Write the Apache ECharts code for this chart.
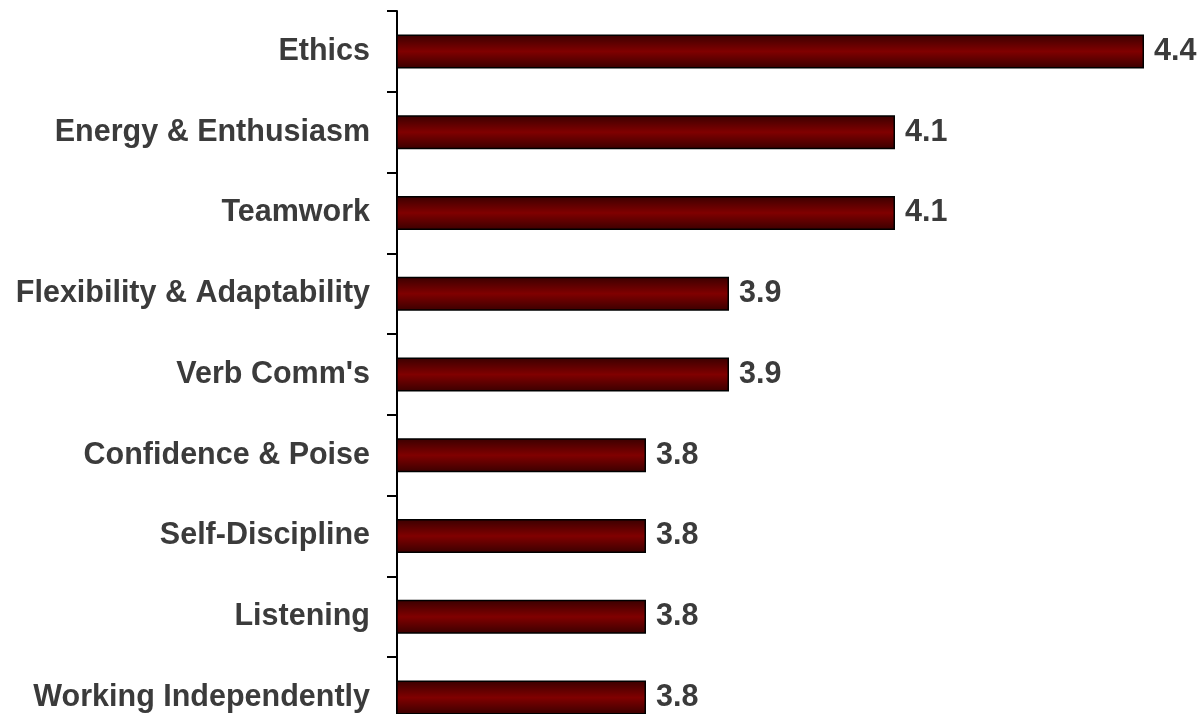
<!DOCTYPE html>
<html>
<head>
<meta charset="utf-8">
<script src="https://cdn.jsdelivr.net/npm/echarts@6/dist/echarts.min.js"></script>
<style>
  html, body { margin: 0; padding: 0; background: #fff; overflow: hidden; }
  /* canvas is taller and wider than the window: the plot runs past the bottom-right edge */
  #chart { width: 1300px; height: 800px; }
</style>
</head>
<body>
<div id="chart"></div>
<script>
// Skill ratings, top to bottom
const categories = [
  "Ethics",
  "Energy & Enthusiasm",
  "Teamwork",
  "Flexibility & Adaptability",
  "Verb Comm's",
  "Confidence & Poise",
  "Self-Discipline",
  "Listening",
  "Working Independently"
];
const ratings = [4.4, 4.1, 4.1, 3.9, 3.9, 3.8, 3.8, 3.8, 3.8];

const axisMin = 3.5;
const axisMax = 4.5;

const chart = echarts.init(document.getElementById('chart'), null, { renderer: 'canvas' });

const barFill = new echarts.graphic.LinearGradient(0, 0, 0, 1, [
  { offset: 0, color: '#3a0000' },
  { offset: 0.5, color: '#800000' },
  { offset: 1, color: '#3a0000' }
]);

const textFont = {
  color: '#3b3b3b',
  fontFamily: 'Liberation Sans, Arial, sans-serif',
  fontWeight: 'bold',
  fontSize: 30.5,
  padding: [5, 0, 0, 0]
};

chart.setOption({
  animation: false,
  backgroundColor: '#ffffff',
  grid: { left: 397, top: 11, width: 830, height: 727, containLabel: false },
  xAxis: {
    type: 'value',
    min: axisMin,
    max: axisMax,
    show: false
  },
  yAxis: {
    type: 'category',
    data: categories,
    inverse: true,
    axisLine: { show: true, lineStyle: { color: '#000', width: 2 } },
    axisTick: { show: true, inside: false, length: 10, lineStyle: { color: '#000', width: 2 } },
    axisLabel: Object.assign({ margin: 27 }, textFont),
    splitLine: { show: false }
  },
  series: [{
    type: 'bar',
    data: ratings,
    barWidth: 34,
    itemStyle: {
      color: barFill,
      borderColor: '#000',
      borderWidth: 1.5
    },
    label: Object.assign({
      show: true,
      position: 'right',
      distance: 10,
      formatter: p => p.value.toFixed(1)
    }, textFont)
  }]
});
</script>
</body>
</html>
